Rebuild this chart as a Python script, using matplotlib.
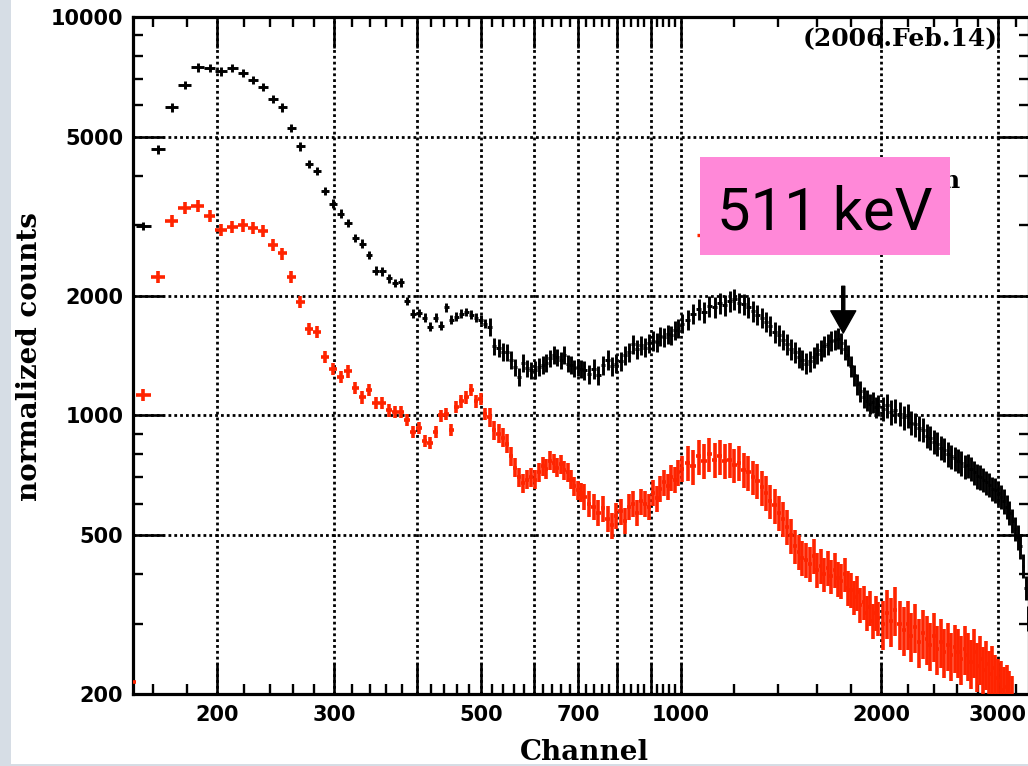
import matplotlib
matplotlib.use("Agg")
import matplotlib.pyplot as plt
import numpy as np
from matplotlib.patches import Rectangle
from matplotlib.lines import Line2D
from matplotlib.ticker import FixedLocator, FixedFormatter, NullFormatter

# channel bin centres, 8-channel bins at low energy
chan_lo = [147, 155, 163, 171, 179, 187, 195, 203, 211, 219, 227, 235, 243, 251,
           259, 267, 275, 283, 291, 299, 307, 315, 323, 331, 339, 347, 355, 363,
           371, 379, 387, 395, 403, 411, 419, 427, 435, 443, 451, 459, 467, 475,
           483, 491, 499, 507]
black_lo = [np.nan, 2990, 4660, 5940, 6750, 7480, 7450, 7300, 7450, 7240, 6950, 6670,
            6225, 5940, 5270, 4740, 4280, 4110, 3660, 3400, 3210, 3040, 2790, 2700,
            2530, 2310, 2300, 2210, 2150, 2160, 1940, 1800, 1810, 1760, 1670, 1760,
            1680, 1870, 1740, 1770, 1800, 1820, 1790, 1760, 1740, 1700]
red_lo = [214, 1125, 2230, 3080, 3320, 3360, 3170, 2920, 2980, 3000, 2960, 2910,
          2680, 2550, 2230, 1930, 1650, 1620, 1400, 1310, 1250, 1290, 1170, 1110,
          1160, 1075, 1075, 1030, 1020, 1020, 975, 910, 930, 865, 853, 910,
          1000, 1010, 920, 1050, 1085, 1110, 1160, 1085, 1100, 1010]

chan_a = [515, 523, 531, 539, 547, 555, 563, 571, 579, 587, 595, 603, 611, 619,
          627, 635, 643, 651, 659, 667, 675, 683, 691, 699, 707]
black_a = [1670, 1490, 1480, 1445, 1440, 1380, 1320, 1250, 1355, 1316, 1300, 1301,
           1324, 1340, 1355, 1390, 1420, 1400, 1377, 1419, 1350, 1340, 1316, 1320, 1310]
red_a = [990, 920, 900, 880, 850, 790, 740, 700, 675, 690, 700, 690,
         720, 745, 735, 770, 760, 740, 755, 730, 720, 690, 665, 650, 640]

# rebinned by 12 channels
chan_b = [715, 727, 739, 751, 763, 775, 787, 799, 811, 823, 835, 847, 859, 871,
          883, 895, 907, 919, 931, 943, 955, 967, 979, 991, 1003]
black_b = [1300, 1270, 1310, 1265, 1340, 1380, 1330, 1350, 1370, 1420, 1440, 1510,
           1470, 1500, 1480, 1520, 1540, 1530, 1580, 1570, 1600, 1590, 1640, 1660, 1700]
red_b = [625, 600, 590, 570, 585, 550, 530, 560, 575, 545, 590, 600, 570, 610,
         600, 590, 640, 620, 655, 680, 665, 700, 690, 720, 735]

# rebinned by 20 channels
chan_c = [1023, 1043, 1063, 1083, 1103, 1123, 1143, 1163, 1183, 1203, 1223, 1243,
          1263, 1283, 1303, 1323, 1343, 1363, 1383, 1403, 1423, 1443, 1463, 1483,
          1503, 1523, 1543, 1563, 1583, 1603, 1623, 1643, 1663, 1683, 1703, 1723,
          1743, 1763, 1783, 1803, 1823, 1843, 1863, 1883, 1903, 1923, 1943, 1963, 1983]
black_c = [1740, 1800, 1850, 1820, 1880, 1870, 1910, 1890, 1940, 1960,
           1920, 1900, 1870, 1830, 1790, 1760, 1720, 1680, 1620, 1590,
           1550, 1510, 1470, 1440, 1400, 1380, 1350, 1370, 1400, 1430,
           1460, 1490, 1510, 1540, 1550, 1560, 1520, 1470, 1420, 1330,
           1260, 1200, 1150, 1110, 1090, 1070, 1080, 1050, 1060]
red_c = [760, 745, 790, 770, 800, 775, 790, 770, 775, 750,
         760, 730, 720, 700, 685, 660, 640, 610, 595, 570,
         550, 525, 500, 470, 455, 440, 435, 425, 445, 410,
         420, 400, 415, 395, 410, 390, 385, 400, 370, 365,
         350, 360, 335, 340, 320, 330, 305, 320, 310]

# rebinned by 30 channels
chan_d = [2013, 2043, 2073, 2103, 2133, 2163, 2193, 2223, 2253, 2283, 2313, 2343,
          2373, 2403, 2433, 2463, 2493, 2523, 2553, 2583, 2613, 2643, 2673, 2703,
          2733, 2763, 2793, 2823, 2853, 2883, 2913, 2943, 2973, 3003, 3033, 3063,
          3093, 3123, 3153, 3183, 3213, 3243, 3273, 3303, 3333]
black_d = [1040, 1060, 1020, 1030, 1010, 990, 1000, 960, 950, 930,
           920, 890, 880, 860, 850, 830, 820, 800, 790, 780,
           770, 760, 745, 750, 735, 720, 705, 700, 690, 680,
           670, 655, 650, 640, 625, 610, 590, 570, 545, 520,
           495, 470, 420, 370, 310]
red_d = [300, 320, 305, 325, 300, 290, 300, 280, 295, 270,
         285, 275, 265, 280, 260, 270, 255, 265, 250, 262,
         255, 245, 260, 250, 240, 255, 235, 245, 230, 238,
         225, 232, 220, 215, 212, 205, 208, 200, 195]

# relative errors for each block
black_relerr = [0.025, 0.05, 0.055, 0.06, 0.07]
red_relerr = [0.035, 0.055, 0.075, 0.10, 0.14]

x_major = [200, 300, 400, 500, 600, 700, 800, 900, 1000, 2000, 3000]
x_labels = ['200', '300', '', '500', '', '700', '', '', '1000', '2000', '3000']
x_minor = ([160, 180] + [v for v in range(220, 1000, 20) if v % 100]
           + [1200, 1400, 1600, 1800, 2200, 2400, 2600, 2800, 3200])
y_major = [200, 500, 1000, 2000, 5000, 10000]
y_labels = ['200', '500', '1000', '2000', '5000', '10000']
y_minor = [300, 400, 600, 700, 800, 900, 3000, 4000, 6000, 7000, 8000, 9000]

W, H = 1028, 766


def fx(px):
    return px / W


def fy(py):
    return 1 - py / H


fig = plt.figure(figsize=(W / 100, H / 100), dpi=100)
fig.patch.set_facecolor('#d6dde5')
fig.add_artist(Rectangle((fx(11), fy(764)), 1.0, fy(0) - fy(764), transform=fig.transFigure,
                         facecolor='white', edgecolor='none', zorder=-1))

ax = fig.add_axes([fx(133), fy(694), fx(1029) - fx(133), fy(17) - fy(694)])
ax.set_xscale('log')
ax.set_yscale('log')
ax.set_xlim(149.5, 3342)
ax.set_ylim(200, 10000)

red = '#ff2400'
chans = [chan_lo, chan_a, chan_b, chan_c, chan_d]


def draw(counts, rels, color, lw):
    for ch, ct, rel in zip(chans, counts, rels):
        ch = np.asarray(ch, float)
        ct = np.asarray(ct, float)
        ch = ch[:len(ct)]
        half = np.gradient(ch) / 2
        ax.errorbar(ch, ct, xerr=half, yerr=ct * rel, fmt='none', ecolor=color,
                    elinewidth=lw, capsize=0, zorder=3)


draw([red_lo, red_a, red_b, red_c, red_d], red_relerr, red, 2.6)
draw([black_lo, black_a, black_b, black_c, black_d], black_relerr, 'black', 2.1)

# axes, ticks, grid
ax.xaxis.set_major_locator(FixedLocator(x_major))
ax.xaxis.set_major_formatter(FixedFormatter(x_labels))
ax.xaxis.set_minor_locator(FixedLocator(x_minor))
ax.xaxis.set_minor_formatter(NullFormatter())
ax.yaxis.set_major_locator(FixedLocator(y_major))
ax.yaxis.set_major_formatter(FixedFormatter(y_labels))
ax.yaxis.set_minor_locator(FixedLocator(y_minor))
ax.yaxis.set_minor_formatter(NullFormatter())

ax.tick_params(which='major', direction='in', length=22, width=1.9, top=True, right=True,
               labelsize=15)
ax.tick_params(which='minor', direction='in', length=7, width=1.7, top=True, right=True)
ax.tick_params(axis='x', which='major', pad=8)
ax.tick_params(axis='y', which='major', pad=7)
for lab in ax.get_xticklabels() + ax.get_yticklabels():
    lab.set_fontweight('bold')
    lab.set_family('DejaVu Sans')
for sp in ax.spines.values():
    sp.set_linewidth(2.3)

ax.set_axisbelow(True)
ax.grid(True, which='major', color='black', linestyle=(0, (1, 1.1)), linewidth=2.0)

# 511 keV marker
ax.annotate('', xy=(1755, 1610), xytext=(1755, 2110),
            arrowprops=dict(width=2.2, headwidth=18, headlength=16, shrink=0,
                            color='black'), zorder=6)

serif = dict(family='DejaVu Serif', weight='bold')
fig.text(fx(584), fy(752), 'Channel', ha='center', va='center', size=20, **serif)
fig.text(fx(30), fy(357), 'normalized counts', rotation=90, ha='center', va='center',
         size=20, **serif)
fig.text(fx(998), fy(38), '(2006.Feb.14)', ha='right', va='center', size=18, **serif)

# legend entries (mostly under the label box)
fig.text(fx(959), fy(181), 'n', ha='right', va='center', size=18, **serif)
fig.add_artist(Line2D([fx(705)], [fy(235)], marker='+', markersize=11, mew=2.4,
                      color=red, transform=fig.transFigure, zorder=5))

fig.add_artist(Rectangle((fx(700), fy(255)), fx(950) - fx(700), fy(157) - fy(255),
                         transform=fig.transFigure, facecolor='#ff88d8',
                         edgecolor='none', zorder=10))
fig.text(fx(825), fy(230), '511 keV', ha='center', va='baseline', family='Roboto',
         size=43, color='black', zorder=11)

fig.savefig('out.png', dpi=100, facecolor=fig.get_facecolor())
